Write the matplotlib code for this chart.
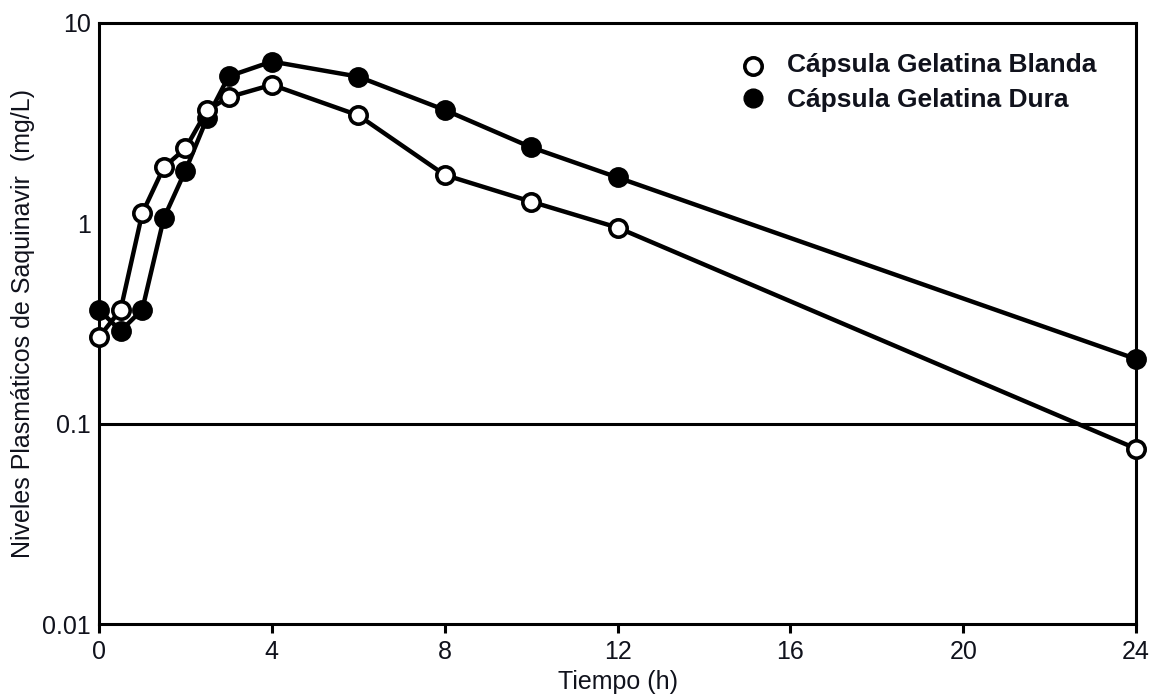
import numpy as np
import matplotlib
matplotlib.use("Agg")
import matplotlib.pyplot as plt
from matplotlib.ticker import FixedLocator, FixedFormatter, NullLocator

plt.rcParams['font.family'] = ['Liberation Sans', 'DejaVu Sans']

# datos
tiempo = [0, 0.5, 1, 1.5, 2, 2.5, 3, 4, 6, 8, 10, 12, 24]
blanda = [0.27, 0.37, 1.12, 1.9, 2.36, 3.65, 4.25, 4.9, 3.45, 1.74, 1.28, 0.95, 0.075]
dura = [0.37, 0.29, 0.37, 1.06, 1.83, 3.34, 5.4, 6.4, 5.38, 3.67, 2.39, 1.69, 0.21]
etiquetas = ["Cápsula Gelatina Blanda", "Cápsula Gelatina Dura"]
xticks = [0, 4, 8, 12, 16, 20, 24]
yticks = [0.01, 0.1, 1, 10]
ylabels = ["0.01", "0.1", "1", "10"]

txt = '#10121c'

fig = plt.figure(figsize=(11.49, 6.96), dpi=100)
ax = fig.add_axes([0.0862, 0.1034, 0.9025, 0.864])

ax.axhline(0.1, color='black', lw=2.2, zorder=1)

ax.plot(tiempo, dura, '-o', color='black', lw=3.2, ms=13.5,
        mfc='black', mec='black', mew=1.5, clip_on=False, zorder=3)
ax.plot(tiempo, blanda, '-o', color='black', lw=3.2, ms=12.5,
        mfc='white', mec='black', mew=2.6, clip_on=False, zorder=4)

ax.set_yscale('log')
ax.set_xlim(0, 24)
ax.set_ylim(0.01, 10)
ax.xaxis.set_major_locator(FixedLocator(xticks))
ax.yaxis.set_major_locator(FixedLocator(yticks))
ax.yaxis.set_major_formatter(FixedFormatter(ylabels))
ax.yaxis.set_minor_locator(NullLocator())

for s in ax.spines.values():
    s.set_linewidth(2.2)
ax.tick_params(axis='x', direction='out', length=6.5, width=2.2,
               labelsize=18, labelcolor=txt, pad=5)
ax.tick_params(axis='y', length=0, labelsize=18, labelcolor=txt, pad=6)

ax.set_xlabel("Tiempo (h)", fontsize=18, color=txt, labelpad=4)
ax.set_ylabel("Niveles Plasmáticos de Saquinavir  (mg/L)", fontsize=18,
              color=txt, labelpad=5)

# leyenda
ax.plot([0.631], [0.928], 'o', transform=ax.transAxes, ms=12.5, mfc='white',
        mec='black', mew=2.6, clip_on=False)
ax.plot([0.631], [0.875], 'o', transform=ax.transAxes, ms=13.5, mfc='black',
        mec='black', clip_on=False)
ax.text(0.6635, 0.929, etiquetas[0], transform=ax.transAxes, fontsize=19,
        fontweight='bold', va='center', ha='left', color=txt)
ax.text(0.6635, 0.872, etiquetas[1], transform=ax.transAxes, fontsize=19,
        fontweight='bold', va='center', ha='left', color=txt)

fig.savefig('out.png', dpi=100)
